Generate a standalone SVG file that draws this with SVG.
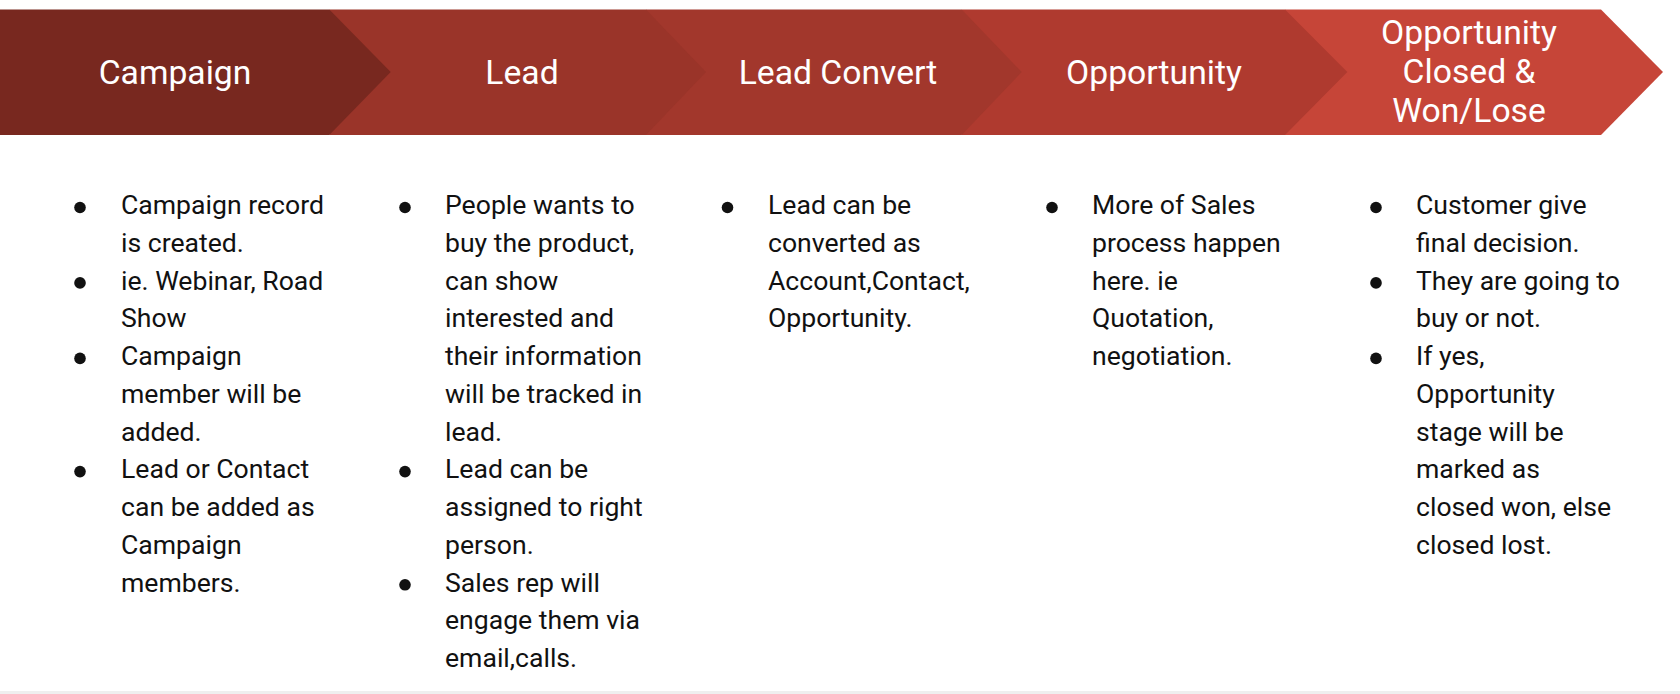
<svg xmlns="http://www.w3.org/2000/svg" width="1680" height="694" viewBox="0 0 1680 694">
<style>
.hd{font-family:Roboto,"Liberation Sans",sans-serif;font-size:33.7px;fill:#ffffff;text-anchor:middle}
.bd{font-family:Roboto,"Liberation Sans",sans-serif;font-size:26.6px;fill:#111111}
.bl{fill:#111111}
</style>
<rect x="0" y="0" width="1680" height="694" fill="#ffffff"/>
<rect x="0" y="691" width="1680" height="3" fill="#efefef"/>
<g id="stage-won-lose">
<polygon points="1285,9.5 1601,9.5 1663,72 1601,135 1285,135" fill="#C64538"/>
<text class="hd" x="1469" y="44">Opportunity</text>
<text class="hd" x="1469" y="83">Closed &amp;</text>
<text class="hd" x="1469" y="122">Won/Lose</text>
</g>
<g id="stage-opportunity">
<polygon points="961.7,9.5 1285,9.5 1347.3,72 1285,135 961.7,135" fill="#AF3A2F"/>
<text class="hd" x="1154" y="84">Opportunity</text>
</g>
<g id="stage-lead-convert">
<polygon points="646,9.5 961.7,9.5 1021.7,72 961.7,135 646,135" fill="#A2372C"/>
<text class="hd" x="838" y="84">Lead Convert</text>
</g>
<g id="stage-lead">
<polygon points="329.3,9.5 646,9.5 706,72 646,135 329.3,135" fill="#9A3429"/>
<text class="hd" x="522" y="84">Lead</text>
</g>
<g id="stage-campaign">
<polygon points="0,9.5 329.3,9.5 390.7,72 329.3,135 0,135" fill="#78281F"/>
<text class="hd" x="175" y="84">Campaign</text>
</g>
<g id="list-campaign">
<circle class="bl" cx="80" cy="207.5" r="5.8"/>
<circle class="bl" cx="80" cy="282.9" r="5.8"/>
<circle class="bl" cx="80" cy="358.4" r="5.8"/>
<circle class="bl" cx="80" cy="471.6" r="5.8"/>
<text class="bd" x="121" y="214">Campaign record</text>
<text class="bd" x="121" y="251.7">is created.</text>
<text class="bd" x="121" y="289.5">ie. Webinar, Road</text>
<text class="bd" x="121" y="327.2">Show</text>
<text class="bd" x="121" y="365">Campaign</text>
<text class="bd" x="121" y="402.7">member will be</text>
<text class="bd" x="121" y="440.5">added.</text>
<text class="bd" x="121" y="478.2">Lead or Contact</text>
<text class="bd" x="121" y="516">can be added as</text>
<text class="bd" x="121" y="553.7">Campaign</text>
<text class="bd" x="121" y="591.5">members.</text>
</g>
<g id="list-lead">
<circle class="bl" cx="405" cy="207.5" r="5.8"/>
<circle class="bl" cx="405" cy="471.6" r="5.8"/>
<circle class="bl" cx="405" cy="584.8" r="5.8"/>
<text class="bd" x="445" y="214">People wants to</text>
<text class="bd" x="445" y="251.7">buy the product,</text>
<text class="bd" x="445" y="289.5">can show</text>
<text class="bd" x="445" y="327.2">interested and</text>
<text class="bd" x="445" y="365">their information</text>
<text class="bd" x="445" y="402.7">will be tracked in</text>
<text class="bd" x="445" y="440.5">lead.</text>
<text class="bd" x="445" y="478.2">Lead can be</text>
<text class="bd" x="445" y="516">assigned to right</text>
<text class="bd" x="445" y="553.7">person.</text>
<text class="bd" x="445" y="591.5">Sales rep will</text>
<text class="bd" x="445" y="629.2">engage them via</text>
<text class="bd" x="445" y="667">email,calls.</text>
</g>
<g id="list-lead-convert">
<circle class="bl" cx="727.5" cy="207.5" r="5.8"/>
<text class="bd" x="768" y="214">Lead can be</text>
<text class="bd" x="768" y="251.7">converted as</text>
<text class="bd" x="768" y="289.5">Account,Contact,</text>
<text class="bd" x="768" y="327.2">Opportunity.</text>
</g>
<g id="list-opportunity">
<circle class="bl" cx="1052" cy="207.5" r="5.8"/>
<text class="bd" x="1092" y="214">More of Sales</text>
<text class="bd" x="1092" y="251.7">process happen</text>
<text class="bd" x="1092" y="289.5">here. ie</text>
<text class="bd" x="1092" y="327.2">Quotation,</text>
<text class="bd" x="1092" y="365">negotiation.</text>
</g>
<g id="list-won-lose">
<circle class="bl" cx="1376" cy="207.5" r="5.8"/>
<circle class="bl" cx="1376" cy="282.9" r="5.8"/>
<circle class="bl" cx="1376" cy="358.4" r="5.8"/>
<text class="bd" x="1416" y="214">Customer give</text>
<text class="bd" x="1416" y="251.7">final decision.</text>
<text class="bd" x="1416" y="289.5">They are going to</text>
<text class="bd" x="1416" y="327.2">buy or not.</text>
<text class="bd" x="1416" y="365">If yes,</text>
<text class="bd" x="1416" y="402.7">Opportunity</text>
<text class="bd" x="1416" y="440.5">stage will be</text>
<text class="bd" x="1416" y="478.2">marked as</text>
<text class="bd" x="1416" y="516">closed won, else</text>
<text class="bd" x="1416" y="553.7">closed lost.</text>
</g>
<g id="connectors"/>
</svg>
